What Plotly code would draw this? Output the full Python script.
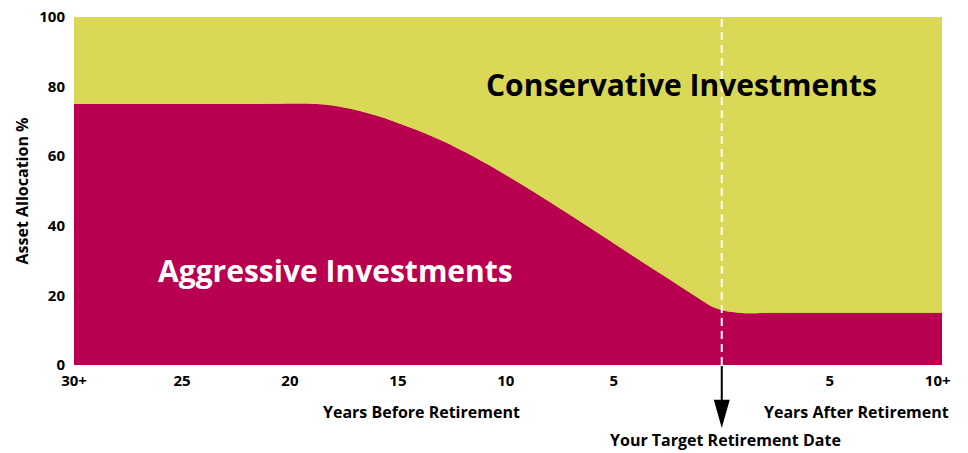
import plotly.graph_objects as go

# Data (years relative to retirement: negative = before, positive = after)
years = [-30, -22, -18.75, -17.5, -16, -14.5, -13, -11.5, -10, -8, -6, -4,
         -2.5, -1.2, -0.3, 0.8, 2.5, 10.2]
aggressive = [75, 75, 75, 74.0, 71.7, 68.4, 64.6, 59.9, 54.6, 47.0, 39.0, 30.9,
              24.9, 19.7, 16.4, 15.0, 15.0, 15.0]
conservative_top = [100] * len(years)

tick_vals = [-30, -25, -20, -15, -10, -5, 5, 10]
tick_text = ["30+", "25", "20", "15", "10", "5", "5", "10+"]
y_ticks = [0, 20, 40, 60, 80, 100]

MAGENTA = "rgb(185,0,80)"
YELLOW = "rgb(217,217,87)"
FONT = "Open Sans"

fig = go.Figure()
fig.add_trace(go.Scatter(
    x=years, y=aggressive, mode="lines", fill="tozeroy",
    line=dict(color=MAGENTA, width=0, shape="spline", smoothing=1.0),
    fillcolor=MAGENTA, hoverinfo="skip", name="Aggressive Investments"))
fig.add_trace(go.Scatter(
    x=years, y=conservative_top, mode="lines", fill="tonexty",
    line=dict(color=YELLOW, width=0),
    fillcolor=YELLOW, hoverinfo="skip", name="Conservative Investments"))

fig.update_layout(
    width=968, height=453,
    margin=dict(l=74, r=26, t=17, b=88),
    paper_bgcolor="white", plot_bgcolor=YELLOW,
    showlegend=False,
    font=dict(family=FONT, color="black"),
    xaxis=dict(range=[-30, 10.2], tickvals=tick_vals, ticktext=tick_text,
               showgrid=False, zeroline=False, showline=False, ticks="",
               automargin=False,
               tickfont=dict(family=FONT, size=15, color="black", weight="bold"),
               ticklabelstandoff=5),
    yaxis=dict(range=[0, 100], tickvals=y_ticks, showgrid=False, zeroline=False,
               showline=False, ticks="", automargin=False,
               tickfont=dict(family=FONT, size=15, color="black", weight="bold"),
               ticklabelstandoff=8,
               title=dict(text="Asset Allocation %", standoff=6,
                          font=dict(family=FONT, size=16, color="black", weight="bold"))),
)

# dashed retirement line
fig.add_shape(type="line", xref="x", yref="paper", x0=0, x1=0, y0=0, y1=1,
              line=dict(color="white", width=2, dash="8px,5px"), layer="above")
# arrow below axis
fig.add_shape(type="line", xref="x", yref="paper", x0=0, x1=0, y0=-0.003, y1=-0.105,
              line=dict(color="black", width=2))
fig.add_shape(type="path", xref="x", yref="paper",
              path="M -0.37,-0.10 L 0.37,-0.10 L 0,-0.181 Z",
              fillcolor="black", line=dict(color="black", width=0))

fig.add_annotation(x=-1.85, y=80.7, xref="x", yref="y", text="Conservative Investments",
                   showarrow=False, xanchor="center", yanchor="middle",
                   font=dict(family=FONT, size=30, color="black", weight="bold"))
fig.add_annotation(x=-17.87, y=27.3, xref="x", yref="y", text="Aggressive Investments",
                   showarrow=False, xanchor="center", yanchor="middle",
                   font=dict(family=FONT, size=30, color="white", weight="bold"))
fig.add_annotation(x=-13.9, y=-0.135, xref="x", yref="paper", text="Years Before Retirement",
                   showarrow=False, xanchor="center", yanchor="middle",
                   font=dict(family=FONT, size=16, color="black", weight="bold"))
fig.add_annotation(x=6.25, y=-0.135, xref="x", yref="paper", text="Years After Retirement",
                   showarrow=False, xanchor="center", yanchor="middle",
                   font=dict(family=FONT, size=16, color="black", weight="bold"))
fig.add_annotation(x=0.15, y=-0.215, xref="x", yref="paper", text="Your Target Retirement Date",
                   showarrow=False, xanchor="center", yanchor="middle",
                   font=dict(family=FONT, size=16, color="black", weight="bold"))

fig.write_html("out.html")
